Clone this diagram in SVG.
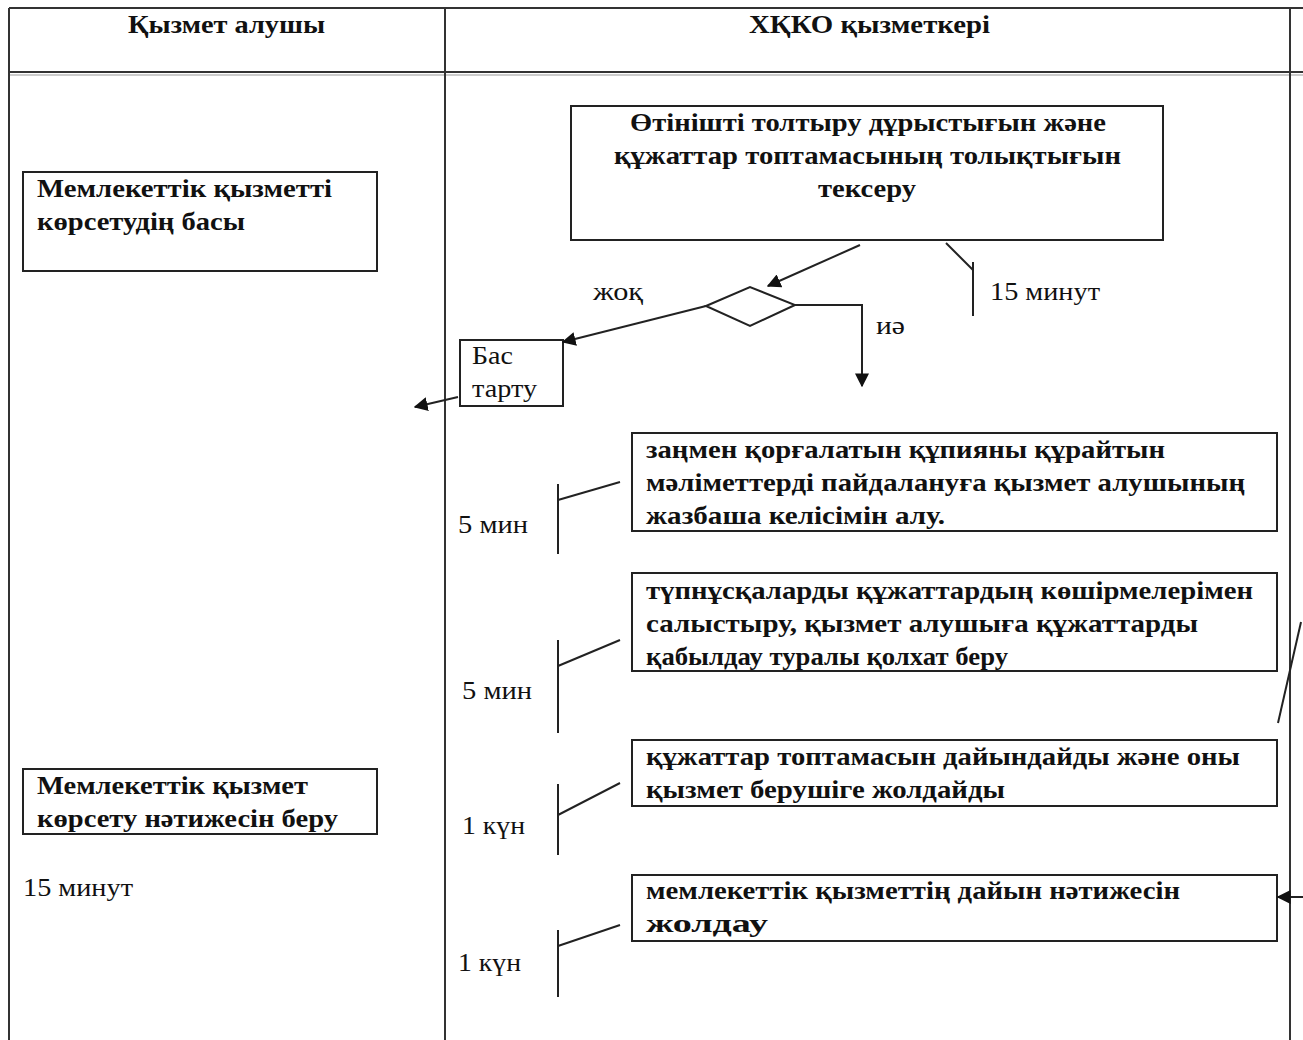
<svg xmlns="http://www.w3.org/2000/svg" width="1303" height="1040" viewBox="0 0 1303 1040">
<style>
.t{font-family:"Liberation Serif","Times New Roman",serif;fill:#111;}
.b{font-weight:bold;font-size:25px;}
.r{font-size:25px;}
.h{font-weight:bold;font-size:26px;}
.box{fill:#fff;stroke:#222;stroke-width:2;}
.ln{fill:none;stroke:#222;stroke-width:2;}
.grid{fill:none;stroke:#333;stroke-width:2;}
</style>
<defs>
<marker id="ahb" viewBox="0 0 10 10" refX="9" refY="5" markerWidth="14" markerHeight="14" markerUnits="userSpaceOnUse" orient="auto">
<path d="M0,0 L10,5 L0,10 z" fill="#111"/>
</marker>
</defs>
<rect width="1303" height="1040" fill="#fff"/>
<g id="table">
<line class="grid" x1="9" y1="8" x2="1303" y2="8"/>
<line class="grid" x1="9" y1="72" x2="1303" y2="72"/>
<line x1="9" y1="75" x2="1303" y2="75" stroke="#999" stroke-width="1"/>
<line class="grid" x1="9" y1="8" x2="9" y2="1040"/>
<line class="grid" x1="445" y1="8" x2="445" y2="1040"/>
<line class="grid" x1="1290" y1="8" x2="1290" y2="1040"/>
<text class="t h" x="128" y="33" textLength="197" lengthAdjust="spacingAndGlyphs">Қызмет алушы</text>
<text class="t h" x="749" y="33" textLength="241" lengthAdjust="spacingAndGlyphs">ХҚКО қызметкері</text>
</g>
<g id="node-start">
<rect class="box" x="23" y="172" width="354" height="99"/>
<text class="t b" x="37" y="197" textLength="295" lengthAdjust="spacingAndGlyphs">Мемлекеттік қызметті</text>
<text class="t b" x="37" y="230" textLength="208" lengthAdjust="spacingAndGlyphs">көрсетудің басы</text>
</g>
<g id="node-check">
<rect class="box" x="571" y="106" width="592" height="134"/>
<text class="t b" x="630" y="131" textLength="476" lengthAdjust="spacingAndGlyphs">Өтінішті толтыру дұрыстығын және</text>
<text class="t b" x="614" y="164" textLength="507" lengthAdjust="spacingAndGlyphs">құжаттар топтамасының толықтығын</text>
<text class="t b" x="818" y="197" textLength="98" lengthAdjust="spacingAndGlyphs">тексеру</text>
</g>
<g id="node-decision">
<polygon points="706,306 750,287 795,305 750,326" fill="#fff" stroke="#222" stroke-width="2"/>
</g>
<g id="node-refuse">
<rect class="box" x="460" y="340" width="103" height="66"/>
<text class="t r" x="472" y="364" textLength="41" lengthAdjust="spacingAndGlyphs">Бас</text>
<text class="t r" x="472" y="397" textLength="65" lengthAdjust="spacingAndGlyphs">тарту</text>
</g>
<g id="node-consent">
<rect class="box" x="632" y="433" width="645" height="98"/>
<text class="t b" x="646" y="458" textLength="519" lengthAdjust="spacingAndGlyphs">заңмен қорғалатын құпияны құрайтын</text>
<text class="t b" x="646" y="491" textLength="599" lengthAdjust="spacingAndGlyphs">мәліметтерді пайдалануға қызмет алушының</text>
<text class="t b" x="646" y="524" textLength="299" lengthAdjust="spacingAndGlyphs">жазбаша келісімін алу.</text>
</g>
<g id="node-compare">
<rect class="box" x="632" y="573" width="645" height="98"/>
<text class="t b" x="646" y="599" textLength="607" lengthAdjust="spacingAndGlyphs">түпнұсқаларды құжаттардың көшірмелерімен</text>
<text class="t b" x="646" y="632" textLength="552" lengthAdjust="spacingAndGlyphs">салыстыру, қызмет алушыға құжаттарды</text>
<text class="t b" x="646" y="665" textLength="362" lengthAdjust="spacingAndGlyphs">қабылдау туралы қолхат беру</text>
</g>
<g id="node-prepare">
<rect class="box" x="632" y="740" width="645" height="66"/>
<text class="t b" x="646" y="765" textLength="594" lengthAdjust="spacingAndGlyphs">құжаттар топтамасын дайындайды және оны</text>
<text class="t b" x="646" y="798" textLength="359" lengthAdjust="spacingAndGlyphs">қызмет берушіге жолдайды</text>
</g>
<g id="node-send">
<rect class="box" x="632" y="875" width="645" height="66"/>
<text class="t b" x="646" y="899" textLength="534" lengthAdjust="spacingAndGlyphs">мемлекеттік қызметтің дайын нәтижесін</text>
<text class="t b" x="646" y="932" textLength="122" lengthAdjust="spacingAndGlyphs">жолдау</text>
</g>
<g id="node-result">
<rect class="box" x="23" y="769" width="354" height="65"/>
<text class="t b" x="37" y="794" textLength="271" lengthAdjust="spacingAndGlyphs">Мемлекеттік қызмет</text>
<text class="t b" x="37" y="827" textLength="301" lengthAdjust="spacingAndGlyphs">көрсету нәтижесін беру</text>
</g>
<g id="labels">
<text class="t r" x="23" y="896" textLength="110" lengthAdjust="spacingAndGlyphs">15 минут</text>
<text class="t r" x="990" y="300" textLength="110" lengthAdjust="spacingAndGlyphs">15 минут</text>
<text class="t r" x="593" y="300" textLength="50" lengthAdjust="spacingAndGlyphs">жоқ</text>
<text class="t r" x="876" y="334" textLength="29" lengthAdjust="spacingAndGlyphs">иә</text>
<text class="t r" x="458" y="533" textLength="70" lengthAdjust="spacingAndGlyphs">5 мин</text>
<text class="t r" x="462" y="699" textLength="70" lengthAdjust="spacingAndGlyphs">5 мин</text>
<text class="t r" x="462" y="834" textLength="63" lengthAdjust="spacingAndGlyphs">1 күн</text>
<text class="t r" x="458" y="971" textLength="63" lengthAdjust="spacingAndGlyphs">1 күн</text>
</g>
<g id="connectors">
<line class="ln" x1="860" y1="245" x2="768" y2="286" marker-end="url(#ahb)"/>
<line class="ln" x1="706" y1="306" x2="563" y2="342" marker-end="url(#ahb)"/>
<polyline class="ln" points="795,305 862,305 862,386" marker-end="url(#ahb)"/>
<line class="ln" x1="458" y1="397" x2="415" y2="407" marker-end="url(#ahb)"/>
<line class="ln" x1="1303" y1="897" x2="1278" y2="897" marker-end="url(#ahb)"/>
<line class="ln" x1="1278" y1="723" x2="1301" y2="622"/>
<line class="ln" x1="973" y1="262" x2="973" y2="316"/>
<line class="ln" x1="946" y1="243" x2="973" y2="270"/>
<line class="ln" x1="558" y1="484" x2="558" y2="554"/>
<line class="ln" x1="558" y1="500" x2="620" y2="482"/>
<line class="ln" x1="558" y1="640" x2="558" y2="733"/>
<line class="ln" x1="558" y1="666" x2="620" y2="640"/>
<line class="ln" x1="558" y1="784" x2="558" y2="855"/>
<line class="ln" x1="558" y1="815" x2="620" y2="783"/>
<line class="ln" x1="558" y1="930" x2="558" y2="997"/>
<line class="ln" x1="558" y1="946" x2="620" y2="925"/>
</g>
</svg>
